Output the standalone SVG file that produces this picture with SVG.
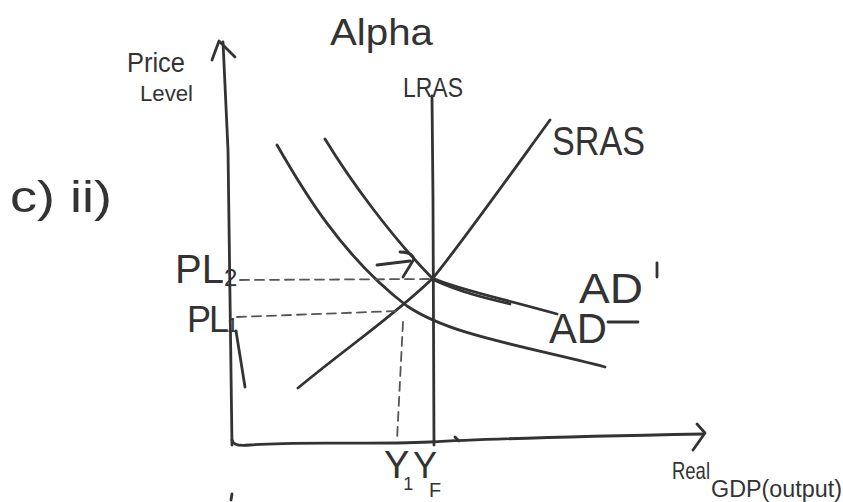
<svg xmlns="http://www.w3.org/2000/svg" width="843" height="502" viewBox="0 0 843 502">
<style>
.ln{fill:none;stroke:#333;stroke-width:2.8;stroke-linecap:round;stroke-linejoin:round}
.dash{fill:none;stroke:#555;stroke-width:1.8;stroke-dasharray:9 6;stroke-linecap:round}
.t{font-family:"Liberation Sans",Arial,sans-serif;fill:#333}
</style>
<rect width="843" height="502" fill="#fff"/>
<g id="axes">
<path class="ln" d="M232,445 L228,150 L223,42"/>
<path class="ln" d="M212,60 L219,41 L235,57"/>
<path class="ln" d="M232,440 Q233,447 250,445 C300,441 360,445 430,442 C500,438 600,436 703,434"/>
<path class="ln" d="M697,424 L705,433 L693,450"/>
<path class="ln" d="M455,437 L459,441"/>
<path class="ln" d="M236,331 L245,387"/>
<path class="ln" d="M232,494 L231,500"/>
</g>
<g id="LRAS">
<path class="ln" d="M432,96 L433,200 L434,445"/>
<text class="t" x="403" y="97" font-size="28" textLength="60" lengthAdjust="spacingAndGlyphs">LRAS</text>
</g>
<g id="SRAS">
<path class="ln" d="M298,388 C350,345 395,315 433,278 C460,245 510,175 550,120"/>
<text class="t" x="552" y="155" font-size="40" textLength="93" lengthAdjust="spacingAndGlyphs">SRAS</text>
</g>
<g id="AD">
<path class="ln" d="M277,145 C300,185 340,255 407,306 C450,335 520,345 605,367"/>
<text class="t" x="549" y="343" font-size="42" textLength="58" lengthAdjust="spacingAndGlyphs">AD</text>
<path class="ln" d="M608,322 L638,322"/>
</g>
<g id="AD1">
<path class="ln" d="M325,139 C350,180 390,235 432,278 C460,290 500,298 557,314"/>
<path class="ln" stroke-width="4" d="M434,280 C460,292 485,298 510,304"/>
<text class="t" x="579" y="303" font-size="42" textLength="64" lengthAdjust="spacingAndGlyphs">AD</text>
<path class="ln" d="M657,263 L657,277"/>
</g>
<g id="connectors">
<path class="dash" d="M240,280 L430,279"/>
<path class="dash" d="M237,317 L398,311"/>
<path class="dash" d="M403,322 L397,440"/>
<path class="ln" d="M377,265 L410,261"/>
<path class="ln" d="M400,252 Q412,252 414,259 L403,277"/>
</g>
<g id="labels">
<text class="t" x="330" y="45" font-size="36" textLength="103" lengthAdjust="spacingAndGlyphs">Alpha</text>
<text class="t" x="127" y="72" font-size="28" textLength="58" lengthAdjust="spacingAndGlyphs">Price</text>
<text class="t" x="140" y="101" font-size="22" textLength="53" lengthAdjust="spacingAndGlyphs">Level</text>
<text class="t" x="10" y="212" font-size="44" textLength="102" lengthAdjust="spacingAndGlyphs">c) ii)</text>
<text class="t" x="175" y="283" font-size="40">PL<tspan font-size="24" dy="3">2</tspan></text>
<text class="t" x="187" y="332" font-size="36" letter-spacing="-2">PL<tspan font-size="20" letter-spacing="0">1</tspan></text>
<text class="t" x="384" y="478" font-size="38" letter-spacing="-6">Y<tspan font-size="18" letter-spacing="0" dy="12">1</tspan></text>
<text class="t" x="413" y="478" font-size="36" letter-spacing="-8">Y<tspan font-size="20" letter-spacing="0" dy="19">F</tspan></text>
<text class="t" x="672" y="479" font-size="24" textLength="38" lengthAdjust="spacingAndGlyphs">Real</text>
<text class="t" x="711" y="497" font-size="23" textLength="131" lengthAdjust="spacingAndGlyphs">GDP(output)</text>
</g>
</svg>
